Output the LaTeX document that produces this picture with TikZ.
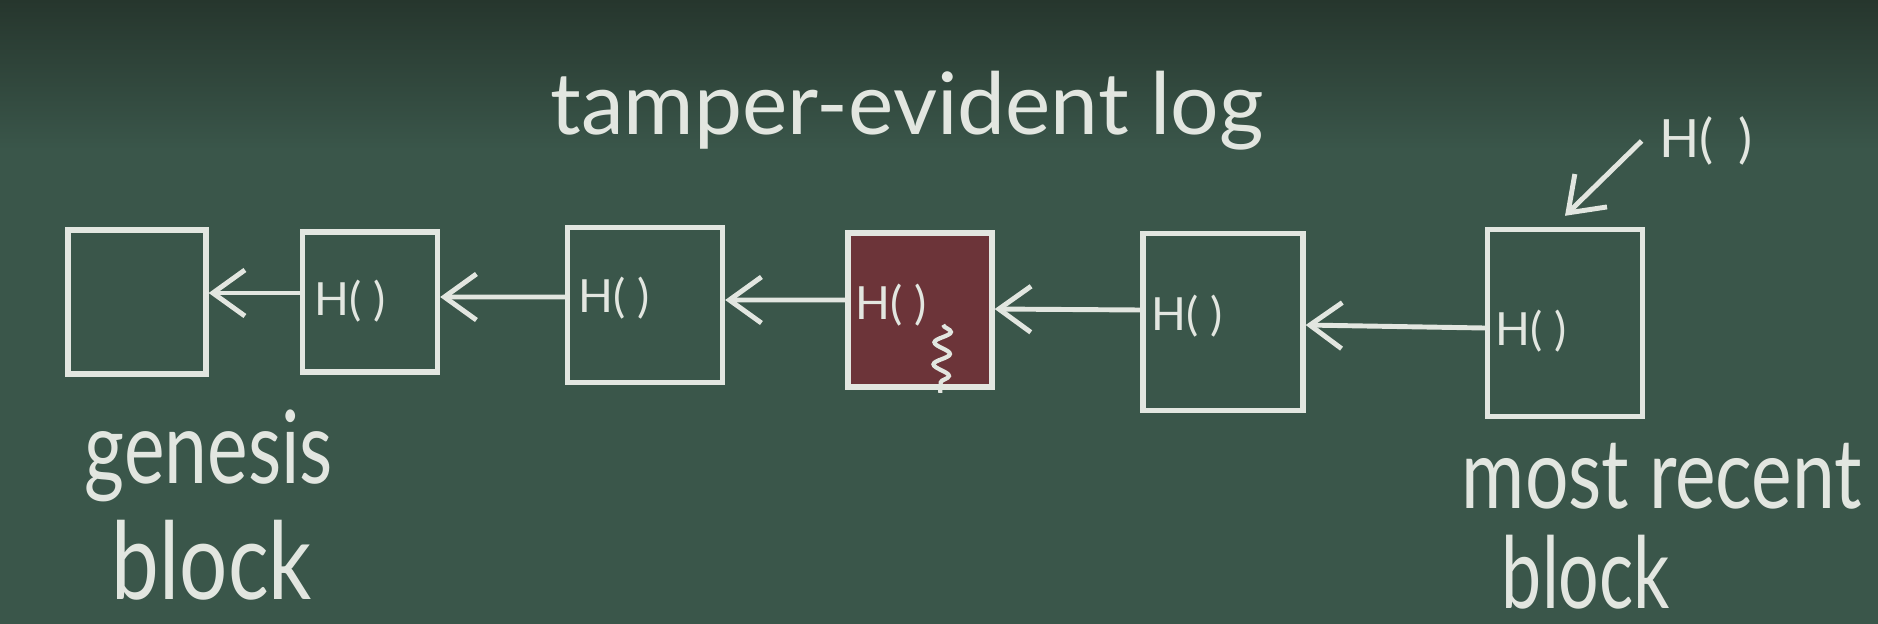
\documentclass[tikz,border=0pt]{standalone}
\usepackage{fontspec}
\setmainfont{Lato}
\usetikzlibrary{arrows.meta,decorations.pathmorphing}
\definecolor{board}{RGB}{58,86,74}
\definecolor{boarddark}{RGB}{38,54,45}
\definecolor{chalk}{RGB}{226,230,224}
\definecolor{redfill}{RGB}{108,52,57}
\tikzset{
  blk/.style={draw=chalk, line width=1.5pt, inner sep=0pt},
  arr/.style={draw=chalk, line width=1.4pt, -{Straight Barb[length=0.32cm,width=0.46cm,line width=1.4pt]}},
  hl/.style={text=chalk, inner sep=0pt, font=\fontsize{13}{15}\selectfont},
  lbl/.style={text=chalk, inner sep=0pt}
}
\begin{document}
\begin{tikzpicture}[x=0.01cm,y=-0.01cm]
\useasboundingbox (0,0) rectangle (1878,624);
\fill[board] (0,0) rectangle (1878,624);
\shade[top color=boarddark, bottom color=board] (0,0) rectangle (1878,150);
% title
\node[lbl] (title) at (907,111) {\resizebox*{7.13cm}{0.79cm}{tamper-evident log}};
% blocks
\node[blk, minimum width=1.38cm, minimum height=1.44cm] (b1) at (137,302) {};
\node[blk, minimum width=1.35cm, minimum height=1.40cm] (b2) at (370,302) {};
\node[blk, minimum width=1.55cm, minimum height=1.55cm] (b3) at (645,305) {};
\node[blk, fill=redfill, minimum width=1.44cm, minimum height=1.54cm] (b4) at (920,310) {};
\node[blk, minimum width=1.60cm, minimum height=1.77cm] (b5) at (1223,322) {};
\node[blk, minimum width=1.55cm, minimum height=1.87cm] (b6) at (1565,323) {};
% hash labels
\node[hl] (h2) at (350,301) {H( )};
\node[hl] (h3) at (614,298) {H( )};
\node[hl] (h4) at (891,305) {H( )};
\node[hl] (h5) at (1187,316) {H( )};
\node[hl] (h6) at (1531,331) {H( )};
\draw[chalk, line width=1.2pt, decorate, decoration={snake, amplitude=0.08cm, segment length=0.22cm}]
  ([shift={(0.16cm,0.02cm)}]h4.south east) -- ([shift={(0.13cm,-0.66cm)}]h4.south east);
% chain arrows
\draw[arr] ([yshift=0.09cm]b2.west) -- ([yshift=0.09cm]b1.east);
\draw[arr] ([yshift=0.08cm]b3.west) -- ([yshift=0.05cm]b2.east);
\draw[arr] ([yshift=0.10cm]b4.west) -- ([yshift=0.05cm]b3.east);
\draw[arr] ([yshift=0.12cm]b5.west) -- ([yshift=0.01cm]b4.east);
\draw[arr] ([yshift=-0.05cm]b6.west) -- ([yshift=-0.03cm]b5.east);
% top-right hash pointer
\node[hl, font=\fontsize{15}{17}\selectfont] (hc) at (1706,141) {H(\hspace{0.25cm})};
\draw[arr] ([xshift=-0.17cm]hc.west) -- ([yshift=0.11cm]b6.north);
% labels
\node[lbl] (gen) at (209,456) {\resizebox*{2.48cm}{0.92cm}{genesis}};
\node[lbl] (blkL) at (212,560) {\resizebox*{2.00cm}{0.80cm}{block}};
\node[lbl] (mr) at (1662,476) {\resizebox*{4.00cm}{0.66cm}{most recent}};
\node[lbl] (blkR) at (1586,572) {\resizebox*{1.68cm}{0.74cm}{block}};
\end{tikzpicture}
\end{document}
